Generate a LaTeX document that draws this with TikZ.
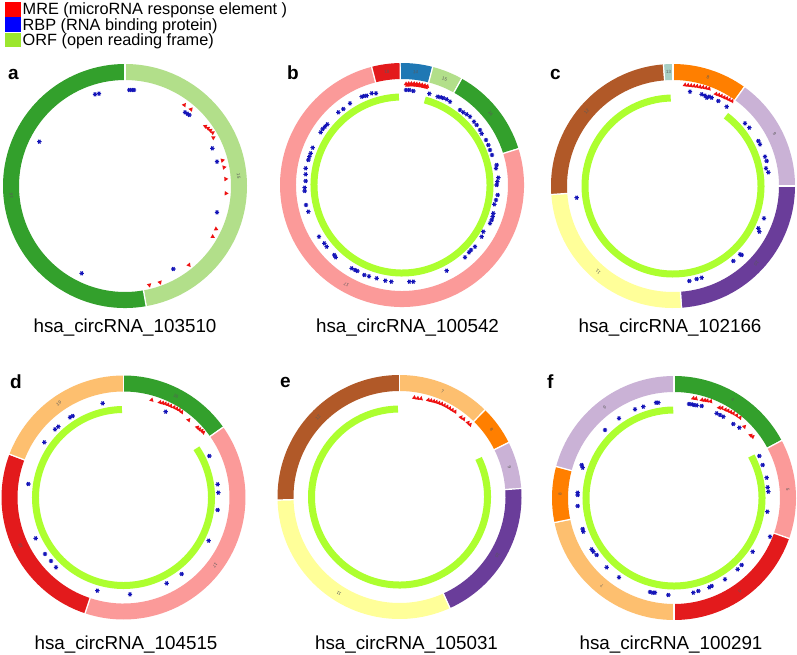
\documentclass[tikz,border=0pt]{standalone}
\usepackage{fontspec}
\setmainfont{Liberation Sans}
\definecolor{p1}{HTML}{A6CEE3}
\definecolor{p2}{HTML}{1F78B4}
\definecolor{p3}{HTML}{B2DF8A}
\definecolor{p4}{HTML}{33A02C}
\definecolor{p5}{HTML}{FB9A99}
\definecolor{p6}{HTML}{E31A1C}
\definecolor{p7}{HTML}{FDBF6F}
\definecolor{p8}{HTML}{FF7F00}
\definecolor{p9}{HTML}{CAB2D6}
\definecolor{p10}{HTML}{6A3D9A}
\definecolor{p11}{HTML}{FFFF99}
\definecolor{p12}{HTML}{B15928}
\definecolor{p13}{HTML}{A8CFC4}
\definecolor{orfgreen}{HTML}{ADFF2F}
\definecolor{rbpblue}{HTML}{1414B8}
\definecolor{mrered}{HTML}{EE1111}
\definecolor{legred}{HTML}{FF0000}
\definecolor{legblue}{HTML}{0000FF}
\definecolor{leggreen}{HTML}{9CE62E}
\tikzset{
  seglabel/.style={font=\fontsize{4.5}{5}\selectfont, text=black!65, inner sep=0},
  captiontext/.style={font=\fontsize{18.8}{20}\selectfont, anchor=base, inner sep=0},
  panelletter/.style={font=\fontsize{19}{20}\selectfont\bfseries, anchor=base west, inner sep=0},
  legtext/.style={font=\fontsize{16.3}{17}\selectfont, anchor=base west, inner sep=0},
  rbpline/.style={draw=rbpblue, line width=1.1pt},
  orfarc/.style={draw=orfgreen, line width=7pt},
  sepline/.style={draw=white, line width=1.2pt}
}
% annular segment: cx cy c1 c2 colour label name (compass angles, clockwise)
\newcommand\segm[7]{%
  \fill[#5] ([shift={(#1,#2)}]#3-90:122) arc[start angle=#3-90, end angle=#4-90, radius=122]
     -- ([shift={(#1,#2)}]#4-90:106) arc[start angle=#4-90, end angle=#3-90, radius=106] -- cycle;
  \draw[sepline] ([shift={(#1,#2)}]#3-90:104) -- ([shift={(#1,#2)}]#3-90:124);
  \draw[sepline] ([shift={(#1,#2)}]#4-90:104) -- ([shift={(#1,#2)}]#4-90:124);
  \pgfmathsetmacro\midc{(#3+#4)/2}%
  \node[seglabel, rotate=-\midc] (#7) at ([shift={(#1,#2)}]\midc-90:114) {#6};%
}
\newcommand\orfring[4]{%
  \draw[orfarc] ([shift={(#1,#2)}]#3-90:88) arc[start angle=#3-90, end angle=#4-90, radius=88];%
}
\newcommand\rbpmark[2]{%
  \draw[rbpline] ({#1},{#2}) +(-2.2,0) -- +(2.2,0) +(-1.1,-1.9) -- +(1.1,1.9) +(-1.1,1.9) -- +(1.1,-1.9);%
}
\newcommand\mremark[4]{%
  \pgfmathsetmacro\mth{atan2((#2)-(#4),(#1)-(#3))}%
  \fill[mrered] ({#1},{#2}) +(\mth:2.6) -- +(\mth+120:2.6) -- +(\mth+240:2.6) -- cycle;%
}
\begin{document}
\begin{tikzpicture}[x=1pt,y=-1pt]
\fill[white] (0,0) rectangle (797,655);
\useasboundingbox (0,0) rectangle (797,655);

% legend
\fill[legred] (5,1.7) rectangle (20.7,16.7);
\fill[legblue] (5,17.3) rectangle (20.7,32.3);
\fill[leggreen] (5,33) rectangle (20.7,47.5);
\node[legtext] (lmre) at (22.5,15) {MRE (microRNA response element )};
\node[legtext] (lrbp) at (22.5,30.7) {RBP (RNA binding protein)};
\node[legtext] (lorf) at (22.5,45.8) {ORF (open reading frame)};

% ---------------- panel a ----------------
\segm{125}{186}{0}{170}{p3}{15}{a15}
\segm{125}{186}{170}{360}{p4}{16}{a16}
\def\ox{0}\def\oy{55}
\foreach \u/\v in {285/118,297/116,388/105,395/105,402/105,555/172,562/176,568/180,118/260,637/280,651/320,651/472,520/642,245/655}
  {\rbpmark{\ox+\u/3}{\oy+\v/3}}
\foreach \u/\v in {553/150,573/163,616/214,624/220,631/226,638/233,640/248,667/316,672/337,677/372,678/415,648/522,638/545,567/630,480/682,448/690}
  {\mremark{\ox+\u/3}{\oy+\v/3}{125}{186}}
\node[panelletter] (la) at (8,80) {a};
\node[captiontext] (ca) at (125,332.5) {hsa\_circRNA\_103510};

% ---------------- panel b ----------------
\segm{402}{185}{-0.9}{14.6}{p2}{14}{b14}
\segm{402}{185}{14.6}{29.3}{p3}{15}{b15}
\segm{402}{185}{29.3}{72.7}{p4}{16}{b16}
\segm{402}{185}{72.7}{345.6}{p5}{17}{b17}
\segm{402}{185}{345.6}{359.1}{p6}{18}{b18}
\orfring{402}{185}{15}{358}
\def\ox{270}\def\oy{55}
\foreach \u/\v in {408/105,418/105,430/108,478/116,503/125,512/127,520/129,530/133,540/140,275/125,283/123,290/122,305/115,318/115,240/145,220/162,205/172,172/208,165/215,158/222,152/232,128/278,122/295,118/305,115/315,107/340,107/358,107/378,104/398,104/408,108/450,115/470,147/545,163/565,170/575,193/600,197/607,245/640,255/645,262/648,283/660,297/664,320/670,346/677,364/680,418/680,430/680,530/647,585/607,597/592,603/585,615/575,635/545,640/530,660/505,665/495,668/485,670/475,673/448,678/435,683/420,680/390,682/380,685/368,678/340,680/330,666/300,660/285,655/270,648/255,635/236,630/225,620/210,612/200,600/185,590/178,580/172,570/165}
  {\rbpmark{\ox+\u/3}{\oy+\v/3}}
\foreach \u/\v in {408/87,416/86,424/86,432/86,440/87,448/88,456/90,464/92,472/94,412/91,420/90,428/90,436/91,444/92,452/93,460/95,468/97}
  {\mremark{\ox+\u/3}{\oy+\v/3}{402}{185}}
\node[panelletter] (lb) at (287,80) {b};
\node[captiontext] (cb) at (407.5,332.5) {hsa\_circRNA\_100542};

% ---------------- panel c ----------------
\segm{673}{186}{0}{35.8}{p8}{8}{c8}
\segm{673}{186}{35.8}{90}{p9}{9}{c9}
\segm{673}{186}{90}{176}{p10}{10}{c10}
\segm{673}{186}{176}{266}{p11}{11}{c11}
\segm{673}{186}{266}{355.5}{p12}{12}{c12}
\segm{673}{186}{355.5}{360}{p13}{13}{c13}
\orfring{673}{186}{37}{358.5}
\def\ox{540}\def\oy{55}
\foreach \u/\v in {450/110,485/118,495/122,500/128,508/125,515/128,535/138,560/155,615/205,628/218,655/258,660/268,675/305,680/318,678/340,685/352,672/490,655/520,658/530,600/598,605/600,580/618,448/678,470/672,485/668,110/428}
  {\rbpmark{\ox+\u/3}{\oy+\v/3}}
\foreach \u/\v in {435/90,444/91,453/92,462/93,471/94,480/96,489/97,498/99,507/101,528/117,536/120,544/123,552/127,560/130,568/134,576/138}
  {\mremark{\ox+\u/3}{\oy+\v/3}{673}{186}}
\node[panelletter] (lc) at (550,79.5) {c};
\node[captiontext] (cc) at (670,332.5) {hsa\_circRNA\_102166};

% ---------------- panel d ----------------
\segm{123.5}{497.5}{0}{54.8}{p4}{16}{d16}
\segm{123.5}{497.5}{54.8}{198.4}{p5}{17}{d17}
\segm{123.5}{497.5}{198.4}{290.8}{p6}{18}{d18}
\segm{123.5}{497.5}{290.8}{360}{p7}{19}{d19}
\orfring{123.5}{497.5}{56}{359}
\def\ox{0}\def\oy{330}
\foreach \u/\v in {308/220,497/245,210/262,218/258,165/298,175/290,133/337,628/378,85/462,653/463,655/488,653/540,107/625,626/632,135/672,153/693,168/712,545/732,500/760,292/782,390/793}
  {\rbpmark{\ox+\u/3}{\oy+\v/3}}
\foreach \u/\v in {455/210,480/217,488/219,496/221,504/224,512/228,522/232,530/236,538/240,545/246,566/270,592/292,598/297,605/302,610/307}
  {\mremark{\ox+\u/3}{\oy+\v/3}{123.5}{497.5}}
\node[panelletter] (ld) at (10,388) {d};
\node[captiontext] (cd) at (126,649.5) {hsa\_circRNA\_104515};

% ---------------- panel e ----------------
\segm{399.5}{497}{0}{44.5}{p7}{7}{e7}
\segm{399.5}{497}{44.5}{63.5}{p8}{8}{e8}
\segm{399.5}{497}{63.5}{86}{p9}{9}{e9}
\segm{399.5}{497}{86}{155.6}{p10}{10}{e10}
\segm{399.5}{497}{155.6}{268.6}{p11}{11}{e11}
\segm{399.5}{497}{268.6}{360}{p12}{12}{e12}
\orfring{399.5}{497}{64}{359}
\def\ox{270}\def\oy{330}
\foreach \u/\v in {433/203,443/205,453/206,475/210,483/212,491/214,499/216,507/219,515/222,523/226,531/230,539/235,547/240,555/245,573/262,581/267,594/278,600/284}
  {\mremark{\ox+\u/3}{\oy+\v/3}{399.5}{497}}
\node[panelletter] (le) at (280,387.5) {e};
\node[captiontext] (ce) at (406.5,649.5) {hsa\_circRNA\_105031};

% ---------------- panel f ----------------
\segm{674}{498}{0}{61.9}{p4}{4}{f4}
\segm{674}{498}{61.9}{109.4}{p5}{5}{f5}
\segm{674}{498}{109.4}{180}{p6}{6}{f6}
\segm{674}{498}{180}{258.4}{p7}{7}{f7}
\segm{674}{498}{258.4}{285}{p8}{8}{f8}
\segm{674}{498}{285}{360}{p9}{9}{f9}
\orfring{674}{498}{61.5}{359.5}
\def\ox{540}\def\oy{330}
\foreach \u/\v in {348/218,355/218,310/230,285/238,237/265,195/300,447/222,455/223,462/225,470/226,485/228,530/250,540/255,550/260,580/282,598/293,658/378,668/405,680/443,683/472,685/485,682/545,690/620,638/665,605/705,593/718,555/748,515/768,508/772,475/783,460/788,385/795,345/788,338/788,330/786,237/742,200/712,170/675,160/665,155/658,130/605,128/597,113/528,113/495,113/488,128/413,125/405}
  {\rbpmark{\ox+\u/3}{\oy+\v/3}}
\foreach \u/\v in {460/205,468/206,486/210,494/211,502/212,512/214,538/233,546/234,556/239,564/242,572/246,580/250,590/256,600/263,613/290,632/316,638/320}
  {\mremark{\ox+\u/3}{\oy+\v/3}{674}{498}}
\node[panelletter] (lf) at (547,388) {f};
\node[captiontext] (cf) at (671,649.5) {hsa\_circRNA\_100291};
\end{tikzpicture}
\end{document}
